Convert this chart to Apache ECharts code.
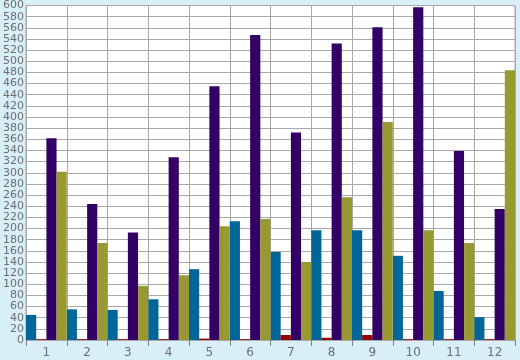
<!DOCTYPE html>
<html><head><meta charset="utf-8">
<script src="https://cdn.jsdelivr.net/npm/echarts@6/dist/echarts.min.js"></script>
<style>html,body{margin:0;padding:0;background:#d9eff7}#c{width:520px;height:360px}</style>
</head><body><div id="c"></div>
<script>
const categories = ['1','2','3','4','5','6','7','8','9','10','11','12'];
const blueValues   = [45, 55, 54, 73, 127, 213, 158, 197, 197, 151, 88, 41];
const redValues    = [1.5, 1.5, 1.5, 1.5, 2.5, 1.5, 9, 4, 9, 1.5, 1.5, 1.5];
const purpleValues = [362, 244, 193, 328, 455, 547, 372, 532, 561, 597, 339, 235];
const oliveValues  = [302, 174, 97, 116, 204, 217, 140, 256, 391, 197, 174, 484];
const yTicks = {min: 0, max: 600, step: 20};

const chart = echarts.init(document.getElementById('c'), null, {renderer: 'canvas'});
const font = 'DejaVu Sans';
const mk = (name, data, color) => ({
  name, type: 'bar', data, barGap: '0%', barCategoryGap: '0%',
  itemStyle: {color}, animation: false
});
chart.setOption({
  animation: false,
  backgroundColor: '#d9eff7',
  grid: {left: 26, right: 5, top: 5, bottom: 20, show: true, backgroundColor: '#ffffff', borderColor: '#a8a8a8', borderWidth: 1},
  xAxis: {
    type: 'category', data: categories, boundaryGap: true,
    axisLine: {show: true, lineStyle: {color: '#a8a8a8'}},
    axisTick: {show: true, alignWithLabel: false, length: 6, lineStyle: {color: '#808080'}},
    axisLabel: {color: '#6e6e6e', fontFamily: font, fontSize: 12, margin: 7},
    splitLine: {show: true, lineStyle: {color: '#a8a8a8', width: 1}}
  },
  yAxis: {
    type: 'value', min: yTicks.min, max: yTicks.max, interval: yTicks.step,
    axisLine: {show: false}, axisTick: {show: false},
    axisLabel: {color: '#6e6e6e', fontFamily: font, fontSize: 11, margin: 2,
      showMinLabel: true, showMaxLabel: true, hideOverlap: false, interval: 0},
    splitLine: {show: true, lineStyle: {color: '#a8a8a8', width: 1}}
  },
  series: [
    mk('blue', blueValues, '#006699'),
    mk('red', redValues, '#990000'),
    mk('purple', purpleValues, '#330066'),
    mk('olive', oliveValues, '#999933')
  ]
});
</script></body></html>
